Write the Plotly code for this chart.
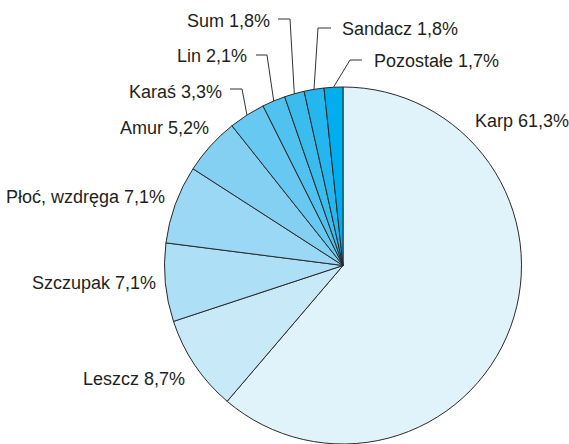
import math
import plotly.graph_objects as go

# ---- data ----
categories = ["Karp", "Leszcz", "Szczupak", "Płoć, wzdręga", "Amur", "Karaś",
              "Lin", "Sum", "Sandacz", "Pozostałe"]
shares = [61.3, 8.7, 7.1, 7.1, 5.2, 3.3, 2.1, 1.8, 1.8, 1.7]
label_texts = [f"{c} {str(v).replace('.', ',')}%" for c, v in zip(categories, shares)]

# ---- style ----
colors = ["#e0f3fb", "#c7e9f8", "#addff7", "#9bd8f5", "#84d0f3", "#67c8f1",
          "#50c2f0", "#3bbcef", "#24b6ee", "#00adee"]
W, H = 569, 444
CX, CY, R = 343, 265.5, 178.5
FONT = "Liberation Sans, Arial, sans-serif"
# label anchor pixel positions (x, y, anchor)
label_pos = [(473, 121, "left"), (187, 379, "right"), (158, 283, "right"),
             (167, 197, "right"), (211, 128, "right"), (224, 92, "right"),
             (249, 56, "right"), (272, 21, "right"), (340, 29, "left"),
             (372, 61, "left")]
# leader line: (elbow x, elbow y, end of horizontal tick x) or None
leaders = [None, None, None, None, None,
           (242, 89, 230), (267, 55, 256), (290, 19, 278),
           (318, 28, 331), (350, 60, 362)]

def px(x):
    return x / W

def py(y):
    return 1 - y / H

fig = go.Figure(go.Pie(
    labels=categories, values=shares, sort=False, direction="clockwise",
    rotation=0, textinfo="none", hoverinfo="label+percent",
    marker=dict(colors=colors, line=dict(color="#2a2a2a", width=1)),
    domain=dict(x=[px(CX - R), px(CX + R)], y=[0, py(CY - R)]),
    showlegend=False,
))

total = sum(shares)
cum = 0.0
shapes = []
annotations = []
for i, v in enumerate(shares):
    mid = (cum + v / 2) / total * 2 * math.pi
    cum += v
    ex = CX + R * math.sin(mid)
    ey = CY - R * math.cos(mid)
    lx, ly, anc = label_pos[i]
    annotations.append(dict(
        x=px(lx), y=py(ly), xref="paper", yref="paper", text=label_texts[i],
        showarrow=False, xanchor=anc, yanchor="middle",
        font=dict(family=FONT, size=18, color="#231f20")))
    if leaders[i] is not None:
        bx, by, tx = leaders[i]
        path = f"M {px(tx)} {py(by)} L {px(bx)} {py(by)} L {px(ex)} {py(ey)}"
        shapes.append(dict(type="path", xref="paper", yref="paper", path=path,
                           line=dict(color="#333333", width=1)))

fig.update_layout(
    width=W, height=H, margin=dict(l=0, r=0, t=0, b=0),
    paper_bgcolor="white", plot_bgcolor="white",
    shapes=shapes, annotations=annotations,
)
fig.write_html("out.html", config={"displayModeBar": False},
               post_script="document.body.style.margin='0';")
